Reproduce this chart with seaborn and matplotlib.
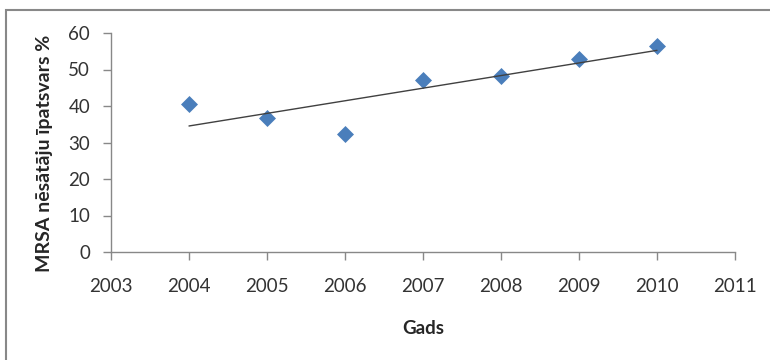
import numpy as np
import matplotlib.pyplot as plt
import seaborn as sns
from matplotlib.patches import Rectangle

# data
years = [2004, 2005, 2006, 2007, 2008, 2009, 2010]
share = [40.5, 36.7, 32.2, 47.0, 48.3, 53.0, 56.5]
x_ticks = list(range(2003, 2012))
y_ticks = [0, 10, 20, 30, 40, 50, 60]

sns.set_style("white")
plt.rcParams['font.family'] = ['Lato', 'DejaVu Sans']

fig = plt.figure(figsize=(7.7, 3.6), dpi=100)
ax = fig.add_axes([111/770, 1-252/360, (735-111)/770, (252-33)/360])

sns.regplot(x=years, y=share, ax=ax, ci=None, truncate=True, marker='D',
            scatter_kws=dict(color='#4A7EBB', s=75, linewidths=0, alpha=1),
            line_kws=dict(color='#404040', lw=1.0))

ax.set_xlim(2003, 2011)
ax.set_ylim(0, 60)
ax.set_xticks(x_ticks)
ax.set_yticks(y_ticks)
ax.tick_params(axis='both', direction='out', length=6, width=1, color='#888888',
               labelsize=13.5, labelcolor='#333333', left=True, bottom=True)
ax.tick_params(axis='y', pad=9)
ax.tick_params(axis='x', pad=13)
for side in ['top', 'right']:
    ax.spines[side].set_visible(False)
for side in ['left', 'bottom']:
    ax.spines[side].set_color('#888888')
    ax.spines[side].set_linewidth(1)

ax.set_xlabel('Gads', fontsize=13.5, fontweight='bold')
ax.set_ylabel('MRSA nēsātāju īpatsvars %', fontsize=14, fontweight='bold')
ax.xaxis.set_label_coords((423-111)/624, -(320-252)/219)
ax.yaxis.set_label_coords((53-111)/624, (252-153)/219)

# outer chart frame
fig.patches.append(Rectangle((6/770, -0.1), 1.2, 1 - 10/360 + 0.1,
                             transform=fig.transFigure, fill=False,
                             edgecolor='#888888', lw=1.5))

fig.savefig('out.png', dpi=100)
